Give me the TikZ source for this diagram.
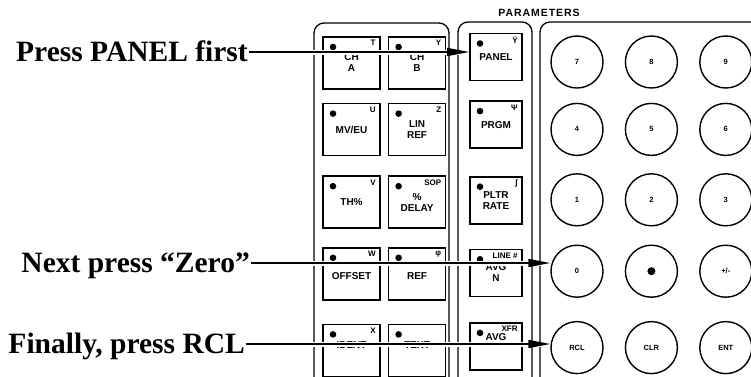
\documentclass[tikz,border=0pt]{standalone}
\usepackage{fontspec}
\setmainfont{Liberation Serif}
\setsansfont{Liberation Sans}
\usepackage{tikz}
\usetikzlibrary{arrows.meta, positioning, calc}

\begin{document}
\begin{tikzpicture}[
  x=1pt, y=-1pt,
  key/.style={rectangle, draw=black, line width=1.6pt,
              minimum width=57pt, minimum height=52pt, inner sep=1pt,
              font=\sffamily\bfseries\fontsize{10}{11}\selectfont, align=center,
              path picture={\fill ([shift={(10pt,-10pt)}]path picture bounding box.north west) circle (3.3pt);}},
  pkey/.style={key, minimum width=52pt, minimum height=47pt},
  tag/.style={anchor=north east, inner xsep=5pt, inner ysep=4pt,
              font=\sffamily\bfseries\fontsize{8}{9}\selectfont},
  btn/.style={circle, draw=black, line width=1.4pt, minimum size=52pt, inner sep=0pt,
              font=\sffamily\bfseries\fontsize{7.5}{9}\selectfont},
  panel/.style={draw=black, line width=1.3pt, rounded corners=10pt},
  lbl/.style={anchor=east, inner sep=1pt, text height=19pt, text depth=0pt,
              font=\bfseries\fontsize{29.5}{34}\selectfont},
  halo/.style={draw=white, line width=5pt},
  arr/.style={-{Triangle[length=22pt,width=8pt]}, line width=1.6pt}
]
\useasboundingbox (0,0) rectangle (751,376);
\clip (0,0) rectangle (751,376);

% panel outlines (run off the bottom of the picture)
\draw[panel] (314,390) |- (449,23) -- (449,390);
\draw[panel] (458,390) |- (532,22) -- (532,390);
\draw[panel] (540,390) |- (800,22);
\node[font=\sffamily\bfseries\fontsize{10.5}{12}\selectfont\addfontfeatures{LetterSpace=9}] (prm) at (539,13) {PARAMETERS};

% left block of keys
\node[key, label={[tag]north east:T}] (cha) at (351.5,63) {CH\\A};
\node[key, label={[tag]north east:Y}, right=7pt of cha] (chb) {CH\\B};
\node[key, label={[tag]north east:U}, below=13pt of cha] (mveu) {MV/EU};
\node[key, label={[tag]north east:Z}, right=7pt of mveu] (linref) {LIN\\REF};
\node[key, label={[tag]north east:V}, below=19pt of mveu] (thp) {TH\%};
\node[key, label={[tag]north east:SOP}, right=7pt of thp] (delay) {\%\\DELAY};
\node[key, label={[tag]north east:W}, below=18pt of thp] (offs) {\mbox{}\\OFFSET};
\node[key, label={[tag]north east:φ}, right=7pt of offs] (zref) {\mbox{}\\REF};
\node[key, label={[tag]north east:X}, below=23pt of offs] (ident) {IDENT\\\mbox{}};
\node[key, right=7pt of ident] (txt) {TEXT\\\mbox{}};

% parameter keys
\node[pkey, label={[tag]north east:Ÿ}] (pnl) at (496,57) {PANEL};
\node[pkey, label={[tag]north east:Ψ}, below=19pt of pnl] (prgm) {PRGM};
\node[pkey, label={[tag]north east:∫}, below=27pt of prgm] (pltr) {PLTR\\RATE};
\node[pkey, label={[tag]north east:LINE \#}, below=24pt of pltr] (avgn) {AVG\\N};
\node[pkey, label={[tag]north east:XFR}, below=25pt of avgn] (avgx) {AVG\\[7pt]\mbox{}};

% number pad
\node[btn] (b7) at (577,62) {7};
\node[btn, right=21pt of b7] (b8) {8};
\node[btn, right=21pt of b8] (b9) {9};
\node[btn, below=14pt of b7] (b4) {4};
\node[btn, right=21pt of b4] (b5) {5};
\node[btn, right=21pt of b5] (b6) {6};
\node[btn, below=17pt of b4] (b1) {1};
\node[btn, right=21pt of b1] (b2) {2};
\node[btn, right=21pt of b2] (b3) {3};
\node[btn, below=18pt of b1] (b0) {0};
\node[btn, right=21pt of b0] (bpt) {};
\node[btn, right=21pt of bpt] (bpm) {+/-};
\node[btn, below=23pt of b0] (brcl) {RCL};
\node[btn, right=21pt of brcl] (bclr) {CLR};
\node[btn, right=21pt of bclr] (bent) {ENT};
\fill (bpt.center) circle (4pt);

% callouts
\node[lbl] (first) at (249,52) {Press PANEL first};
\node[lbl] (zero) at (251,263) {Next press ``Zero''};
\node[lbl] (last) at (246,344) {Finally, press RCL};

\draw[halo] (first.east) -- (first.east -| pnl.west);
\draw[halo] (zero.east) -- (zero.east -| b0.west);
\draw[halo] (last.east) -- (last.east -| brcl.west);
\draw[arr] (first.east) -- (first.east -| pnl.west);
\draw[arr] (zero.east) -- (zero.east -| b0.west);
\draw[arr] (last.east) -- (last.east -| brcl.west);
\end{tikzpicture}
\end{document}
